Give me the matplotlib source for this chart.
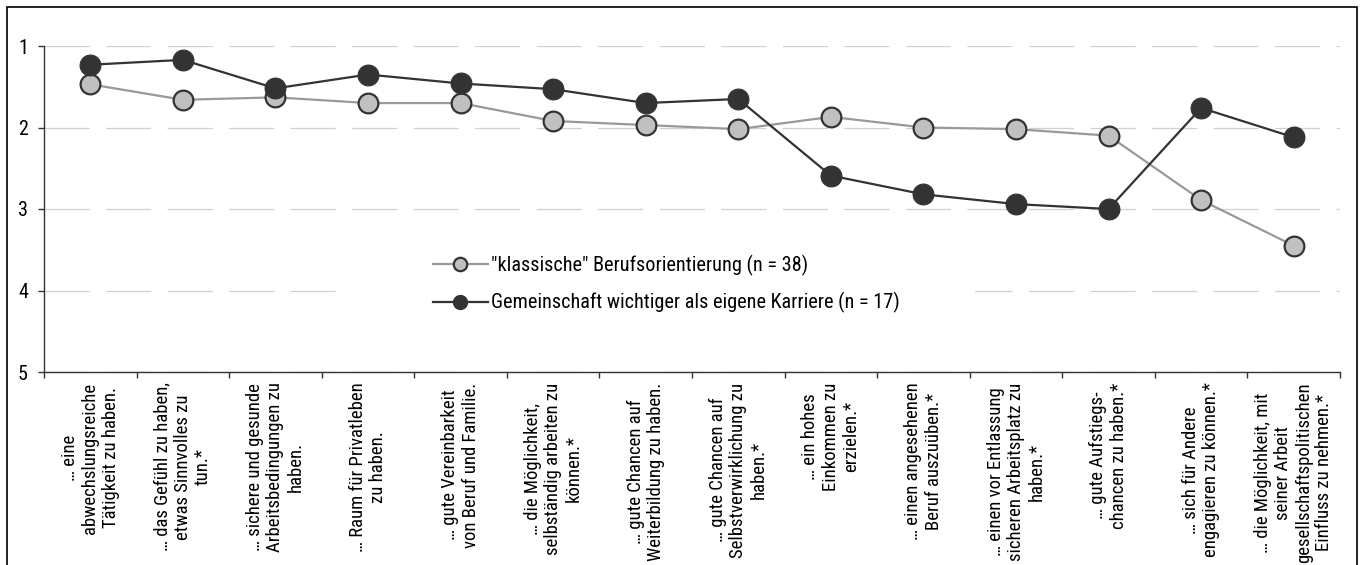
import matplotlib
matplotlib.use("Agg")
import matplotlib.pyplot as plt
from matplotlib.patches import Rectangle
from matplotlib.transforms import IdentityTransform
import numpy as np

# ---------------- data ----------------
categories = [
    "… eine\nabwechslungsreiche\nTätigkeit zu haben.",
    "… das Gefühl zu haben,\netwas Sinnvolles zu\ntun.*",
    "… sichere und gesunde\nArbeitsbedingungen zu\nhaben.",
    "… Raum für Privatleben\nzu haben.",
    "… gute Vereinbarkeit\nvon Beruf und Familie.",
    "… die Möglichkeit,\nselbständig arbeiten zu\nkönnen.*",
    "… gute Chancen auf\nWeiterbildung zu haben.",
    "… gute Chancen auf\nSelbstverwirklichung zu\nhaben.*",
    "… ein hohes\nEinkommen zu\nerzielen.*",
    "… einen angesehenen\nBeruf auszuüben.*",
    "… einen vor Entlassung\nsicheren Arbeitsplatz zu\nhaben.*",
    "… gute Aufstiegs-\nchancen zu haben.*",
    "… sich für Andere\nengagieren zu können.*",
    "… die Möglichkeit, mit\nseiner Arbeit\ngesellschaftspolitischen\nEinfluss zu nehmen.*",
]
klassisch = [1.47, 1.66, 1.63, 1.70, 1.70, 1.92, 1.97, 2.02, 1.87, 2.00, 2.02, 2.10, 2.89, 3.45]
gemeinschaft = [1.23, 1.17, 1.52, 1.35, 1.46, 1.53, 1.70, 1.65, 2.59, 2.82, 2.94, 3.00, 1.76, 2.12]
label_klassisch = '"klassische" Berufsorientierung (n = 38)'
label_gemeinschaft = "Gemeinschaft wichtiger als eigene Karriere (n = 17)"
yticks = [1, 2, 3, 4, 5]

# ---------------- style ----------------
plt.rcParams["font.family"] = ["Roboto Condensed", "DejaVu Sans"]
plt.rcParams["font.size"] = 14
plt.rcParams["lines.scale_dashes"] = False

W, H = 1362, 565
fig = plt.figure(figsize=(W / 100, H / 100), dpi=100)
ax = fig.add_axes([44 / W, 1 - 372 / H, (1340 - 44) / W, (372 - 46) / H])

x = np.arange(len(categories))

ax.plot(x, klassisch, color="#999999", lw=1.6, marker="o", ms=14.2,
        mfc="#c0c0c0", mec="#333333", mew=1.6, zorder=3, label=label_klassisch)
ax.plot(x, gemeinschaft, color="#333333", lw=1.6, marker="o", ms=15,
        mfc="#333333", mec="#333333", mew=0.8, zorder=4, label=label_gemeinschaft)

ax.set_xlim(-0.5, len(categories) - 0.5)
ax.set_ylim(5, 1)
ax.set_yticks(yticks)
ax.set_yticklabels([str(v) for v in yticks])

ax.set_xticks(x)
ax.set_xticklabels(categories, rotation=90, ha="center", va="top",
                   multialignment="center", fontsize=13.5, linespacing=1.17)
ax.set_xticks(np.arange(len(categories) + 1) - 0.5, minor=True)
ax.tick_params(axis="x", which="major", length=0, pad=7.5)
ax.tick_params(axis="x", which="minor", length=4, width=1, color="#333333", direction="out")
ax.tick_params(axis="y", length=4.5, width=1, color="#333333", pad=7, labelsize=14.5)

for s in ["top", "right"]:
    ax.spines[s].set_visible(False)
for s in ["left", "bottom"]:
    ax.spines[s].set_color("#333333")
    ax.spines[s].set_linewidth(1)

ax.yaxis.grid(True, color="#d0d0d0", lw=0.9, linestyle=(0, (32.5, 11.8)), zorder=0.5)
ax.set_axisbelow(True)

leg = ax.legend(loc="upper left", bbox_to_anchor=(433 / W, 1 - 255 / H),
                bbox_transform=fig.transFigure, frameon=False,
                prop={"family": ["Roboto Condensed", "DejaVu Sans"], "size": 14.6},
                handlelength=2.7, handletextpad=0.18, labelspacing=0.8,
                borderpad=0, borderaxespad=0, markerscale=0.68)
leg.set_zorder(6)

# white background behind legend (blanks the gridline like the original)
fig.canvas.draw()
bb = leg.get_window_extent()
bg = Rectangle((bb.x0 - 95, bb.y0), bb.width + 95 + 75, bb.height,
               transform=IdentityTransform(), facecolor="white", edgecolor="none", zorder=1)
ax.add_patch(bg)

# outer frame of the figure
fig.patches.append(Rectangle((7 / W, -0.1), (1357 - 7) / W, 1.1 - 7.5 / H,
                             transform=fig.transFigure, fill=False,
                             edgecolor="black", lw=1.2))

fig.savefig("out.png", dpi=100)
